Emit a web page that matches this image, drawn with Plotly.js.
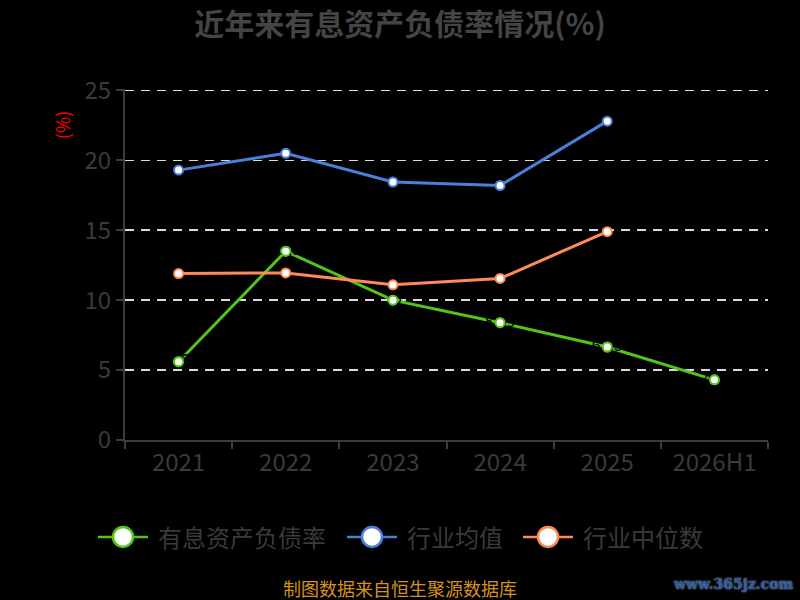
<!DOCTYPE html>
<html>
<head>
<meta charset="utf-8">
<script src="https://cdn.plot.ly/plotly-3.0.1.min.js"></script>
<style>html,body{margin:0;padding:0;background:#000;}#chart{width:800px;height:600px;}</style>
</head>
<body>
<div id="chart"></div>
<script>
var categories = ["2021", "2022", "2023", "2024", "2025", "2026H1"];
var debtRatio = [5.6, 13.5, 10.0, 8.39, 6.65, 4.3];
var industryAvg = [19.3, 20.5, 18.45, 18.2, 22.8, null];
var industryMedian = [11.9, 11.95, 11.1, 11.55, 14.9, null];
var seriesNames = ["有息资产负债率", "行业均值", "行业中位数"];
var colors = ["#52c41a", "#4a80dc", "#ff8a57"];

var font = "'Noto Sans CJK SC', 'Noto Sans', sans-serif";

// plot-area geometry (px) used to place the hand-built legend
var PL = 125, PW = 643, PB = 440;
function px2x(p) { return (p - PL) / PW; }
function px2y(p) { return (PB - p) / (350 * 25.1 / 25); }

function lineTrace(y, name, color) {
  return {
    x: categories, y: y, name: name, type: "scatter", mode: "lines+markers",
    line: {color: color, width: 3},
    marker: {size: 9, color: "#ffffff", line: {color: color, width: 2}},
    showlegend: false,
    hoverinfo: "x+y"
  };
}

var traces = [
  lineTrace(debtRatio, seriesNames[0], colors[0]),
  {
    x: categories, y: debtRatio, type: "scatter", mode: "text", showlegend: false,
    text: debtRatio.map(function (v) { return String(v); }),
    textposition: "middle center",
    textfont: {color: "#000000", size: 16, family: font},
    hoverinfo: "skip"
  },
  {
    x: categories, y: debtRatio, type: "scatter", mode: "markers", showlegend: false,
    marker: {size: 9, color: "#ffffff", line: {color: colors[0], width: 2}},
    hoverinfo: "skip"
  },
  lineTrace(industryAvg, seriesNames[1], colors[1]),
  lineTrace(industryMedian, seriesNames[2], colors[2])
];

// hand-built legend (line + big circle + label), matching the reference look
var legendItems = [
  {lineStart: 98, textStart: 158},
  {lineStart: 347, textStart: 407},
  {lineStart: 523, textStart: 583}
];
var legendY = 537;
var shapes = [];
var annotations = [];
legendItems.forEach(function (it, i) {
  var cx = it.lineStart + 25;
  shapes.push({
    type: "line", xref: "paper", yref: "paper", layer: "above",
    x0: px2x(it.lineStart), x1: px2x(it.lineStart + 50), y0: px2y(legendY), y1: px2y(legendY),
    line: {color: colors[i], width: 2.5}
  });
  shapes.push({
    type: "circle", xref: "paper", yref: "paper", layer: "above",
    x0: px2x(cx - 10), x1: px2x(cx + 10), y0: px2y(legendY - 10), y1: px2y(legendY + 10),
    fillcolor: "#ffffff", line: {color: colors[i], width: 2.5}
  });
  annotations.push({
    text: seriesNames[i], xref: "paper", yref: "paper",
    x: px2x(it.textStart), y: px2y(legendY), xanchor: "left", yanchor: "middle",
    showarrow: false, xshift: -2,
    font: {size: 24, color: "#3a3a3a", family: font}
  });
});

annotations.push({
  text: "(%)", textangle: -90, xref: "paper", yref: "paper",
  x: px2x(62), y: px2y(125), xanchor: "center", yanchor: "middle", showarrow: false,
  font: {size: 18, color: "#ff0000", family: font}
});
annotations.push({
  text: "制图数据来自恒生聚源数据库", xref: "paper", yref: "paper",
  x: px2x(400), y: px2y(588), xanchor: "center", yanchor: "middle", showarrow: false,
  font: {size: 18, color: "#d4921e", family: font}
});
annotations.push({
  text: "<b>www.365jz.com</b>", xref: "paper", yref: "paper",
  x: px2x(796), y: px2y(584), xanchor: "right", yanchor: "middle", showarrow: false,
  font: {size: 14, color: "#2f5ba3", family: "'DejaVu Serif', serif", shadow: "0px 0px 2px #9ab"}
});

var layout = {
  width: 800, height: 600,
  paper_bgcolor: "#000000", plot_bgcolor: "#000000",
  margin: {l: 125, r: 32, t: 90 - 350 * 0.1 / 25, b: 160},
  font: {family: font, color: "#3a3a3a"},
  title: {
    text: "<b>近年来有息资产负债率情况(%)</b>",
    font: {size: 30, color: "#444444", family: font},
    x: 0.5, xanchor: "center", yref: "container", y: 0.96, yanchor: "middle"
  },
  xaxis: {
    type: "category",
    range: [-0.5, 5.5],
    tickson: "boundaries",
    ticks: "outside", ticklen: 7, tickcolor: "#3d3d3d", tickwidth: 2,
    showline: true, linecolor: "#3d3d3d", linewidth: 2,
    showgrid: false, zeroline: false,
    tickfont: {size: 24, color: "#3a3a3a", family: font},
    fixedrange: true
  },
  yaxis: {
    range: [0, 25.1],
    tickvals: [0, 5, 10, 15, 20, 25],
    ticks: "outside", ticklen: 7, tickcolor: "#3d3d3d", tickwidth: 2,
    showline: true, linecolor: "#3d3d3d", linewidth: 2,
    showgrid: true, gridcolor: "#d9d9d9", gridwidth: 1.5, griddash: "9px,7px",
    zeroline: false,
    tickfont: {size: 24, color: "#3a3a3a", family: font},
    ticksuffix: " ",
    fixedrange: true
  },
  shapes: shapes,
  annotations: annotations,
  showlegend: false
};

Plotly.newPlot("chart", traces, layout, {displayModeBar: false, staticPlot: true});
</script>
</body>
</html>
